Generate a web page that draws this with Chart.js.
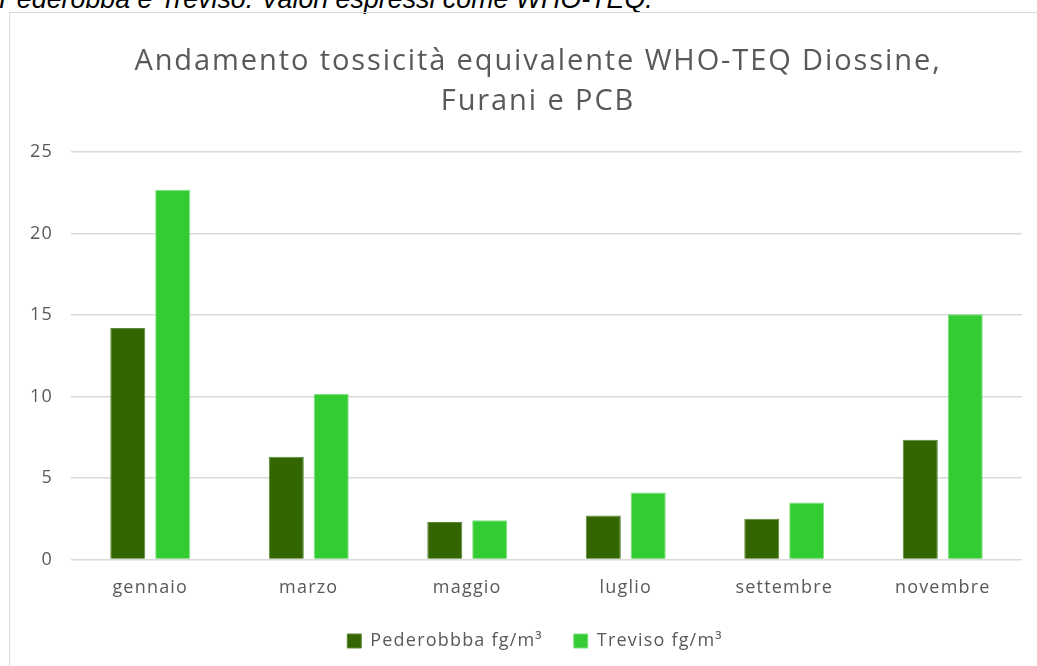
<!DOCTYPE html>
<html>
<head>
<meta charset="utf-8">
<script src="https://cdn.jsdelivr.net/npm/chart.js@4/dist/chart.umd.min.js"></script>
<style>
  html, body { margin: 0; padding: 0; background: #fff; overflow: hidden; }
  body { width: 1037px; height: 666px; position: relative; }
  #caption {
    position: absolute; left: -1px; top: -16px;
    font: italic 26.8px "Liberation Sans", Arial, sans-serif;
    color: #000; white-space: nowrap;
  }
  #frame {
    position: absolute; left: 9px; top: 12px; width: 1100px; height: 700px;
    border: 1.5px solid #d9d9d9; box-sizing: border-box;
  }
  #wrap { position: absolute; left: 10px; top: 14px; width: 1027px; height: 652px; }
</style>
</head>
<body>
<div id="caption">Pederobba e Treviso. Valori espressi come WHO-TEQ.</div>
<div id="frame"></div>
<div id="wrap"><canvas id="chart"></canvas></div>
<script>
const months = ['gennaio', 'marzo', 'maggio', 'luglio', 'settembre', 'novembre'];
const pederobba = [14.2, 6.3, 2.3, 2.7, 2.5, 7.35];
const treviso = [22.7, 10.15, 2.4, 4.1, 3.5, 15.05];
const yTicks = [0, 5, 10, 15, 20, 25];

const textColor = '#595959';
const gridColor = '#d9d9d9';
const fontFamily = '"Open Sans", Lato, sans-serif';

// draw a box shifted by dx/dy, with its own letter spacing
function shifted(chart, box, dx, dy, ls) {
  const draw = box.draw;
  box.draw = function () {
    const { left, right, top, bottom } = this;
    this.left += dx; this.right += dx; this.top += dy; this.bottom += dy;
    chart.ctx.letterSpacing = ls;
    draw.apply(this, arguments);
    chart.ctx.letterSpacing = '1.2px';
    Object.assign(this, { left, right, top, bottom });
  };
}

// the reference text is set a bit looser than Open Sans
const spacing = {
  id: 'spacing',
  afterInit(chart) {
    shifted(chart, chart.titleBlock, 22, 0, '1.9px');
    shifted(chart, chart.legend, 19, -16, '1.2px');
  },
  beforeUpdate(chart) { chart.ctx.letterSpacing = '1.2px'; },
  beforeDraw(chart) { chart.ctx.letterSpacing = '1.2px'; }
};

new Chart(document.getElementById('chart'), {
  type: 'bar',
  data: {
    labels: months,
    datasets: [
      { label: 'Pederobbba fg/m³', data: pederobba, backgroundColor: '#336600', borderColor: '#5c8a3a', borderWidth: 1 },
      { label: 'Treviso fg/m³', data: treviso, backgroundColor: '#33cc33', borderColor: '#7fe07f', borderWidth: 1 }
    ]
  },
  plugins: [spacing],
  options: {
    responsive: true,
    maintainAspectRatio: false,
    animation: false,
    datasets: { bar: { categoryPercentage: 0.567, barPercentage: 0.78 } },
    layout: { padding: { left: 0, right: 15, top: 27, bottom: -10 } },
    plugins: {
      title: {
        display: true,
        text: ['Andamento tossicità equivalente WHO-TEQ Diossine,', 'Furani e PCB'],
        color: textColor,
        font: { family: fontFamily, size: 29, weight: 'normal', lineHeight: 1.4 },
        padding: { top: 0, bottom: 30 }
      },
      legend: {
        position: 'bottom',
        labels: {
          color: textColor,
          font: { family: fontFamily, size: 18 },
          boxWidth: 14, boxHeight: 14, padding: 31
        }
      },
      tooltip: { enabled: false }
    },
    scales: {
      x: {
        grid: { display: false, drawTicks: false },
        border: { display: false },
        ticks: { color: textColor, font: { family: fontFamily, size: 18 }, padding: 18 }
      },
      y: {
        min: 0, max: 25,
        afterFit: (s) => { s.width = 61; },
        afterBuildTicks: (s) => { s.ticks = yTicks.map(v => ({ value: v })); },
        grid: { color: gridColor, lineWidth: 1.5, drawTicks: false },
        border: { display: false },
        ticks: { color: textColor, font: { family: fontFamily, size: 18 }, padding: 18 }
      }
    }
  }
});
</script>
</body>
</html>
